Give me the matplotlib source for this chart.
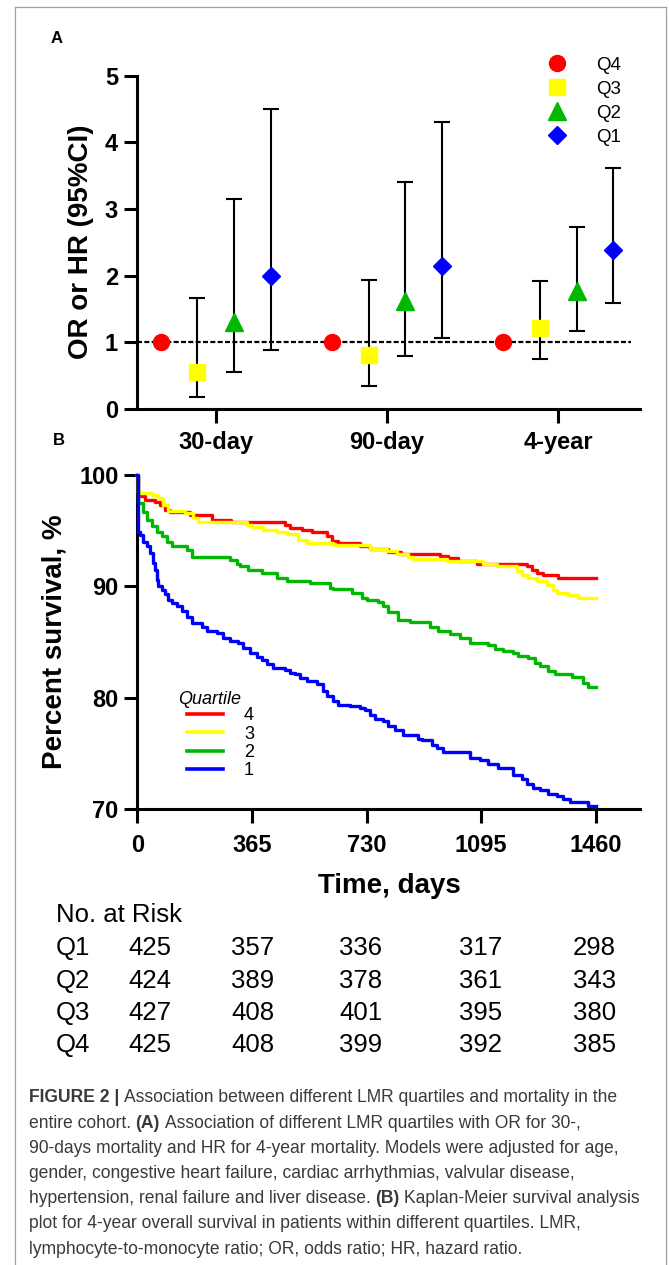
import matplotlib
matplotlib.use('Agg')
import matplotlib.pyplot as plt
from matplotlib.lines import Line2D
from matplotlib import font_manager
import numpy as np

plt.rcParams['font.family'] = ['Liberation Sans', 'DejaVu Sans']

# ---------------- data: panel A ----------------
groups = ['30-day', '90-day', '4-year']
quartile_labels = ['Q4', 'Q3', 'Q2', 'Q1']
q4_est = [1.0, 1.0, 1.0]
q3_est = [0.55, 0.81, 1.21]
q3_low = [0.18, 0.34, 0.75]
q3_high = [1.67, 1.93, 1.92]
q2_est = [1.30, 1.62, 1.77]
q2_low = [0.55, 0.79, 1.17]
q2_high = [3.15, 3.41, 2.73]
q1_est = [2.00, 2.14, 2.39]
q1_low = [0.88, 1.06, 1.59]
q1_high = [4.50, 4.30, 3.61]
yticks_a = [0, 1, 2, 3, 4, 5]

# ---------------- data: panel B (Kaplan-Meier steps) ----------------
km_legend_labels = ['4', '3', '2', '1']
q4_t = [0, 1, 24, 56, 72, 88, 104, 168, 237, 300, 470, 486, 523, 555, 603, 619, 640, 709, 741, 800,
        840, 964, 990, 1022, 1081, 1240, 1256, 1272, 1293, 1341, 1460]
q4_s = [100, 98.1, 97.8, 97.6, 97.3, 96.9, 96.7, 96.4, 96.0, 95.8, 95.5, 95.2, 95.1, 94.9, 94.5, 94.1,
        93.9, 93.6, 93.35, 93.1, 92.9, 92.75, 92.55, 92.3, 92.0, 91.8, 91.5, 91.2, 91.05, 90.8, 90.8]
q3_t = [0, 1, 46, 67, 83, 99, 152, 178, 194, 348, 364, 401, 444, 476, 513, 540, 624, 741, 794, 826,
        863, 879, 985, 1102, 1145, 1208, 1224, 1245, 1272, 1304, 1325, 1336, 1373, 1404, 1460]
q3_s = [100, 98.4, 98.2, 97.9, 97.3, 96.8, 96.6, 96.1, 95.8, 95.5, 95.3, 95.1, 94.9, 94.7, 94.2, 93.9,
        93.7, 93.35, 93.15, 92.95, 92.6, 92.5, 92.25, 92.0, 91.8, 91.35, 91.05, 90.75, 90.45, 90.15,
        89.7, 89.4, 89.2, 88.95, 88.95]
q2_t = [0, 1, 19, 30, 46, 62, 78, 94, 110, 157, 173, 295, 317, 327, 354, 396, 444, 476, 550, 614,
        624, 683, 715, 730, 768, 784, 800, 831, 868, 932, 959, 996, 1028, 1060, 1118, 1139, 1166,
        1198, 1213, 1245, 1267, 1282, 1309, 1330, 1383, 1420, 1436, 1460]
q2_s = [100, 97.5, 96.7, 96.0, 95.4, 94.9, 94.5, 94.0, 93.6, 93.3, 92.65, 92.4, 92.0, 91.8, 91.5,
        91.2, 90.75, 90.5, 90.3, 89.9, 89.8, 89.4, 88.95, 88.8, 88.6, 88.2, 87.7, 87.0, 86.8, 86.4,
        86.0, 85.7, 85.4, 84.9, 84.7, 84.4, 84.2, 84.0, 83.8, 83.6, 83.15, 82.85, 82.45, 82.1, 81.9,
        81.35, 81.0, 81.0]
q1_t = [0, 1, 9, 19, 30, 40, 51, 56, 62, 67, 78, 88, 99, 110, 125, 141, 157, 173, 205, 221, 253,
        274, 295, 322, 338, 359, 380, 396, 412, 433, 470, 486, 502, 518, 540, 571, 592, 603, 624,
        640, 677, 709, 725, 741, 757, 784, 800, 821, 847, 895, 906, 937, 953, 975, 1060, 1091,
        1118, 1150, 1198, 1224, 1240, 1261, 1282, 1309, 1336, 1357, 1378, 1436, 1460]
q1_s = [100, 94.9, 94.6, 94.0, 93.6, 93.0, 92.1, 91.5, 90.6, 90.0, 89.7, 89.3, 88.8, 88.5, 88.2,
        87.8, 87.3, 86.7, 86.4, 86.0, 85.8, 85.4, 85.1, 84.9, 84.5, 84.0, 83.7, 83.4, 83.0, 82.7,
        82.5, 82.2, 82.1, 81.8, 81.5, 81.2, 80.6, 80.15, 79.7, 79.4, 79.25, 79.1, 78.95, 78.5,
        78.1, 77.9, 77.5, 77.1, 76.7, 76.35, 76.2, 75.8, 75.5, 75.1, 74.6, 74.4, 74.1, 73.7,
        73.05, 72.7, 72.25, 71.95, 71.75, 71.35, 71.2, 70.9, 70.65, 70.3, 70.3]
xticks_b = [0, 365, 730, 1095, 1460]
yticks_b = [70, 80, 90, 100]

# ---------------- data: number at risk ----------------
risk_rows = ['Q1', 'Q2', 'Q3', 'Q4']
risk_q1 = [425, 357, 336, 317, 298]
risk_q2 = [424, 389, 378, 361, 343]
risk_q3 = [427, 408, 401, 395, 380]
risk_q4 = [425, 408, 399, 392, 385]

caption_lines = [
    [('FIGURE 2 |', 'bold'), ('Association between different LMR quartiles and mortality in the', 'normal')],
    [('entire cohort.', 'normal'), ('(A)', 'bold'), ('Association of different LMR quartiles with OR for 30-,', 'normal')],
    [('90-days mortality and HR for 4-year mortality. Models were adjusted for age,', 'normal')],
    [('gender, congestive heart failure, cardiac arrhythmias, valvular disease,', 'normal')],
    [('hypertension, renal failure and liver disease.', 'normal'), ('(B)', 'bold'), ('Kaplan-Meier survival analysis', 'normal')],
    [('plot for 4-year overall survival in patients within different quartiles. LMR,', 'normal')],
    [('lymphocyte-to-monocyte ratio; OR, odds ratio; HR, hazard ratio.', 'normal')],
]

RED, YEL, GRN, BLU = '#ff0000', '#ffff00', '#00b800', '#0000ff'

W, H = 669, 1265
fig = plt.figure(figsize=(W / 100, H / 100), dpi=100)


def fx(p):
    return p / W


def fy(p):
    return 1 - p / H


def style_axes(ax):
    for s in ['top', 'right']:
        ax.spines[s].set_visible(False)
    for s in ['left', 'bottom']:
        ax.spines[s].set_linewidth(2.2)
    ax.tick_params(width=2.2, length=9.5, labelsize=17, direction='out')


# ---------------- panel A ----------------
axA = fig.add_axes([fx(136.7), fy(409), fx(640) - fx(136.7), (409 - 75.5) / H])
pos = np.arange(len(groups))
offsets = [-0.322, -0.107, 0.107, 0.322]
axA.set_xlim(-0.461, len(groups) - 1 + 0.477)
axA.set_ylim(0, 5)
axA.hlines(1, -0.461, len(groups) - 1 + 0.424, colors='black',
           linestyles=(0, (2.25, 1.05)), lw=1.6, zorder=1)
series = [
    (q4_est, None, None, 'o', RED, 11.5),
    (q3_est, q3_low, q3_high, 's', YEL, 12),
    (q2_est, q2_low, q2_high, '^', GRN, 12.5),
    (q1_est, q1_low, q1_high, 'D', BLU, 9),
]
handlesA = []
for off, (est, lo, hi, mk, col, ms), lab in zip(offsets, series, quartile_labels):
    x = pos + off
    est = np.array(est)
    if lo is not None:
        yerr = [est - np.array(lo), np.array(hi) - est]
        axA.errorbar(x, est, yerr=yerr, fmt='none', ecolor='black', elinewidth=1.5,
                     capsize=6, capthick=1.5, zorder=2)
    axA.plot(x, est, ls='none', marker=mk, color=col, mec=col, ms=ms, zorder=3)
    handlesA.append(Line2D([], [], ls='none', marker=mk, color=col, mec=col, ms=ms, label=lab))
style_axes(axA)
axA.set_xticks(pos)
axA.set_xticklabels(groups, fontweight='bold')
axA.set_yticks(yticks_a)
axA.set_yticklabels([str(v) for v in yticks_a], fontweight='bold')
axA.tick_params(axis='x', pad=6, length=10)
axA.tick_params(axis='y', pad=4)
fs_legA = 13.5
legA = axA.legend(handles=handlesA, loc='upper left', frameon=False, fontsize=fs_legA,
                  bbox_to_anchor=(fx(548.1), fy(56.5)), bbox_transform=fig.transFigure,
                  borderpad=0, borderaxespad=0, handlelength=1.0, handletextpad=1.55,
                  labelspacing=0.37, numpoints=1)

fig.text(fx(81), fy(242), 'OR or HR (95%CI)', rotation=90, ha='center', va='center',
         fontsize=20, fontweight='bold')
fig.text(fx(50.3), fy(42.7), 'A', fontsize=12, fontweight='bold', ha='left', va='baseline')

# ---------------- panel B ----------------
axB = fig.add_axes([fx(137.3), fy(809.3), fx(640) - fx(137.3), (809.3 - 475) / H])
axB.set_xlim(0, 1601)
axB.set_ylim(70, 100)
curves = [(q4_t, q4_s, RED), (q3_t, q3_s, YEL), (q2_t, q2_s, GRN), (q1_t, q1_s, BLU)]
handlesB = []
for (t, s, col), lab in zip(curves, km_legend_labels):
    axB.step(t, s, where='post', color=col, lw=2.4, clip_on=False, zorder=3)
    handlesB.append(Line2D([], [], color=col, lw=2.6, label=lab))
style_axes(axB)
axB.set_xticks(xticks_b)
axB.set_xticklabels([str(v) for v in xticks_b], fontweight='bold')
axB.set_yticks(yticks_b)
axB.set_yticklabels([str(v) for v in yticks_b], fontweight='bold')
axB.tick_params(axis='x', pad=8, length=10)
axB.tick_params(axis='y', pad=4)
legB = axB.legend(handles=handlesB, loc='upper left', frameon=False, fontsize=13,
                  bbox_to_anchor=(fx(186.7), fy(707.5)), bbox_transform=fig.transFigure,
                  borderpad=0, borderaxespad=0, handlelength=1.99, handletextpad=1.18,
                  labelspacing=0.07)
fig.text(fx(178.3), fy(703.5), 'Quartile', fontsize=13, fontstyle='italic', ha='left', va='baseline')

fig.text(fx(55), fy(642), 'Percent survival, %', rotation=90, ha='center', va='center',
         fontsize=20, fontweight='bold')
fig.text(fx(389.5), fy(893), 'Time, days', ha='center', va='baseline', fontsize=20, fontweight='bold')
fig.text(fx(53.3), fy(445), 'B', fontsize=12, fontweight='bold', ha='left', va='baseline')

# ---------------- number at risk table ----------------
col_x = [150, 252.8, 360.5, 480.6, 594.7]
row_y = [955, 987.7, 1020, 1052.3]
fig.text(fx(55.5), fy(921.7), 'No. at Risk', fontsize=18.5, ha='left', va='baseline')
for lab, vals, yb in zip(risk_rows, [risk_q1, risk_q2, risk_q3, risk_q4], row_y):
    fig.text(fx(55.5), fy(yb), lab, fontsize=18.5, ha='left', va='baseline')
    for v, xc in zip(vals, col_x):
        fig.text(fx(xc), fy(yb), str(v), fontsize=18.5, ha='center', va='baseline')

# ---------------- caption ----------------
names = {f.name for f in font_manager.fontManager.ttflist}
cap_family = ['Liberation Sans Narrow', 'DejaVu Sans'] if 'Liberation Sans Narrow' in names \
    else ['Liberation Sans', 'DejaVu Sans']
cap_color = '#3a3a3a'
renderer = fig.canvas.get_renderer()


def text_width(s, size, weight):
    t = fig.text(0, 0, s, fontsize=size, fontweight=weight, family=cap_family)
    w = t.get_window_extent(renderer).width
    t.remove()
    return w


def line_width(segs, size):
    sp = text_width('a a', size, 'normal') - text_width('aa', size, 'normal')
    return sum(text_width(s, size, w) for s, w in segs) + sp * (len(segs) - 1)


trial = 12.0
cap_size = trial * 617.0 / line_width(caption_lines[4], trial)
space_w = text_width('a a', cap_size, 'normal') - text_width('aa', cap_size, 'normal')
for i, segs in enumerate(caption_lines):
    xcur = 28.6
    yb = 1102.5 + 25.2 * i
    for s, w in segs:
        fig.text(fx(xcur), fy(yb), s, fontsize=cap_size, fontweight=w, family=cap_family,
                 color=cap_color, ha='left', va='baseline')
        xcur += text_width(s, cap_size, w) + space_w

# ---------------- frame ----------------
frame_kw = dict(color='#a0a0a0', lw=0.9, transform=fig.transFigure)
fig.add_artist(Line2D([fx(15), fx(15)], [fy(6.7), 0], **frame_kw))
fig.add_artist(Line2D([fx(665.5), fx(665.5)], [fy(6.7), 0], **frame_kw))
fig.add_artist(Line2D([fx(15), fx(665.5)], [fy(6.7), fy(6.7)], **frame_kw))

fig.savefig('out.png', dpi=100)
